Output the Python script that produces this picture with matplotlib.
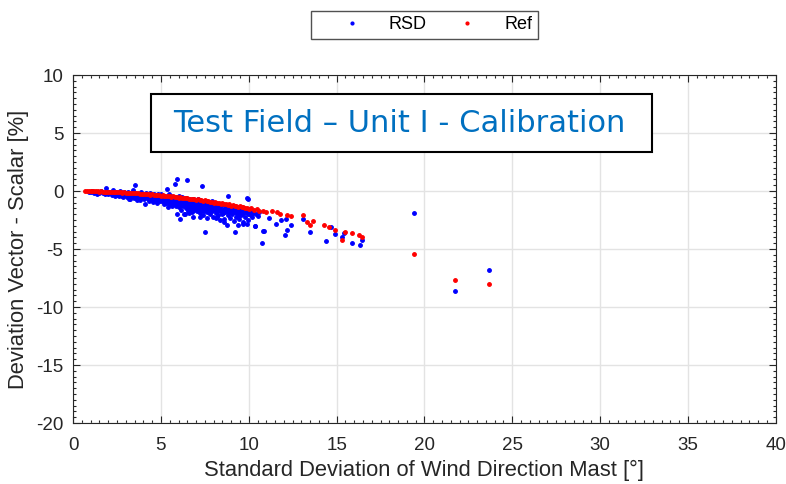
import numpy as np
import matplotlib
matplotlib.use("Agg")
import matplotlib.pyplot as plt
from matplotlib.patches import Rectangle
from matplotlib.ticker import MultipleLocator

plt.rcParams['font.family'] = ['Liberation Sans', 'DejaVu Sans']
plt.rcParams['axes.unicode_minus'] = False

# RSD points (std of wind direction [deg], deviation vector - scalar [%])
rsd_x = [0.9, 1.0, 1.1, 1.2, 1.3, 1.35, 1.4, 1.5, 1.6, 1.7, 1.8, 1.88, 1.9, 2.0,
         2.05, 2.1, 2.2, 2.25, 2.3, 2.4, 2.45, 2.5, 2.6, 2.65, 2.7, 2.8, 2.85, 2.9, 2.95, 3.0,
         3.05, 3.1, 3.15, 3.2, 3.24, 3.3, 3.35, 3.4, 3.45, 3.5, 3.53, 3.55, 3.6, 3.65, 3.7,
         3.75, 3.8, 3.85, 3.9, 3.95,
         4.0, 4.05, 4.1, 4.15, 4.2, 4.25, 4.3, 4.35, 4.4, 4.45, 4.48, 4.5, 4.55, 4.6, 4.65,
         4.7, 4.75, 4.8, 4.85, 4.9, 4.95, 5.0,
         5.02, 5.05, 5.1, 5.15, 5.2, 5.25, 5.3, 5.33, 5.35, 5.4, 5.42, 5.45, 5.5, 5.55, 5.6,
         5.62, 5.65, 5.7, 5.75, 5.8, 5.8, 5.85, 5.88, 5.9, 5.93, 5.95, 5.98,
         6.0, 6.03, 6.05, 6.09, 6.1, 6.12, 6.15, 6.2, 6.22, 6.25, 6.3, 6.32, 6.35, 6.37, 6.4,
         6.42, 6.45, 6.47, 6.5, 6.52, 6.55, 6.6, 6.62, 6.65, 6.7, 6.72, 6.75, 6.8, 6.84, 6.85,
         6.88, 6.9, 6.95, 6.98,
         7.0, 7.03, 7.05, 7.1, 7.12, 7.15, 7.2, 7.22, 7.25, 7.3, 7.32, 7.35, 7.4, 7.42, 7.45,
         7.5, 7.51, 7.55, 7.6, 7.62, 7.65, 7.7, 7.72, 7.75, 7.8, 7.85, 7.88, 7.9, 7.95, 7.98,
         8.0, 8.05, 8.1, 8.12, 8.15, 8.2, 8.22, 8.27, 8.3, 8.35, 8.37, 8.4, 8.45, 8.5, 8.55,
         8.6, 8.62, 8.65, 8.7, 8.74, 8.75, 8.8, 8.84, 8.85, 8.9, 8.93, 8.95, 8.98,
         9.0, 9.05, 9.1, 9.15, 9.2, 9.22, 9.25, 9.3, 9.35, 9.4, 9.45, 9.5, 9.55, 9.6, 9.65,
         9.69, 9.7, 9.75, 9.8, 9.85, 9.88, 9.92, 9.95, 9.97, 9.97, 10.0, 10.05, 10.1, 10.15,
         10.2, 10.25, 10.35, 10.35, 10.4, 10.5, 10.6,
         5.07, 5.18, 5.28, 5.38, 5.48, 5.58, 5.68, 5.78, 5.92, 6.07, 6.18, 6.28, 6.38, 6.48,
         6.58, 6.68, 6.78, 6.92, 7.08, 7.18, 7.28, 7.38, 7.48, 7.58, 7.68, 7.78, 7.92, 8.08,
         8.18, 8.28, 8.42, 8.52, 8.68, 8.78, 8.92, 9.08, 9.18, 9.28, 9.42, 9.52, 9.62, 9.78,
         9.92, 10.08, 10.22, 4.12, 4.32, 4.52, 4.72, 4.92, 3.72, 3.42, 3.12, 2.78, 2.52,
         6.62, 7.22, 8.12, 8.58, 9.38,
         10.77, 10.83, 10.86, 11.17, 11.55, 11.81, 12.11, 12.15, 12.06, 12.38, 13.1, 13.48,
         14.39, 14.66, 14.9, 15.28, 15.41, 15.89, 16.33, 16.46, 19.4, 21.73, 23.68]
rsd_y = [-0.05, -0.1, 0.0, -0.15, -0.05, -0.29, -0.1, -0.2, 0.0, -0.15, -0.25, 0.3, -0.1, -0.3,
         -0.05, -0.2, -0.35, 0.05, -0.15, -0.4, -0.1, -0.25, -0.45, 0.0, -0.3, -0.15, -0.5, -0.05, -0.35, -0.2,
         -0.55, -0.1, -0.35, -0.7, -0.66, -0.2, -0.45, 0.05, -0.6, -0.3, 0.49, -0.15, -0.5, -0.75, -0.25,
         -0.4, -0.8, -0.1, -0.55, -0.3,
         -0.45, -0.7, -1.09, -0.2, -0.6, -0.35, -0.85, -0.5, -0.15, -0.7, -0.8, -0.4, -0.95, -0.3, -0.6,
         -0.75, -0.45, -1.0, -0.25, -0.65, -0.85, -0.5,
         -0.3, -0.9, -0.6, -1.15, -0.4, -0.75, -1.0, 0.2, -0.55, -1.35, -0.85, -0.3, -1.1, -0.65, -0.45,
         -1.25, -0.9, -0.7, -1.05, 0.64, -0.5, -1.3, -0.8, -1.96, 1.07, -0.6, -1.15,
         -0.95, -0.4, -1.4, -2.39, -0.7, -1.15, -1.6, -0.55, -0.9, -1.3, -2.0, -0.75, -1.05, -1.96, -1.5,
         -0.6, -1.2, 0.99, -0.85, -1.7, -1.0, -0.65, -1.35, -1.55, -0.9, -1.15, -1.8, -0.7, -2.25, -1.3,
         -1.0, -1.6, -0.8, -1.25,
         -1.45, -0.95, -1.75, -1.15, -0.7, -1.55, -1.3, -1.9, -0.9, -1.4, 0.43, -1.65, -1.1, -2.1, -1.3,
         -0.85, -3.54, -1.5, -1.8, -1.2, -2.3, -1.0, -1.6, -1.35, -1.95, -1.15, -1.7, -0.9, -1.45, -2.25,
         -1.25, -1.6, -1.0, -1.9, -1.4, -2.2, -1.15, -2.1, -1.55, -1.75, -2.53, -1.3, -1.95, -1.1, -1.65,
         -2.4, -1.45, -1.8, -1.2, -2.96, -1.6, -2.05, -0.46, -1.4, -1.85, -1.67, -2.3, -1.3,
         -1.55, -2.0, -1.7, -2.6, -1.45, -3.54, -1.9, -2.2, -1.6, -1.8, -2.45, -1.5, -2.05, -1.75, -2.68,
         -2.82, -1.9, -1.6, -2.25, -1.7, -2.82, -0.57, -2.0, -0.66, -2.53, -1.65, -1.85, -2.1, -1.7,
         -2.25, -1.9, -3.05, -3.02, -1.95, -2.15, -1.8,
         -0.45, -0.8, -0.55, -1.0, -0.7, -0.95, -1.15, -0.85, -1.0, -0.8, -1.2, -0.95, -0.8, -1.4,
         -1.1, -1.25, -1.45, -1.1, -1.3, -1.0, -1.6, -1.25, -1.7, -1.05, -1.45, -1.25, -1.6, -1.3,
         -1.7, -1.35, -1.6, -1.9, -1.5, -1.7, -1.5, -1.85, -1.6, -1.75, -2.1, -1.7, -2.0, -1.8,
         -1.85, -2.0, -1.75, -0.5, -0.7, -0.6, -0.9, -0.4, -0.6, -0.35, -0.45, -0.4, -0.35,
         -1.9, -2.2, -2.3, -2.7, -2.9,
         -4.49, -3.46, -3.48, -2.33, -2.88, -2.47, -2.39, -3.34, -3.83, -2.97, -2.39, -3.54,
         -4.32, -3.11, -3.68, -3.97, -3.63, -4.49, -4.69, -4.2, -1.87, -8.58, -6.77]

# Reference points
ref_x = [0.7, 0.8, 0.9, 1.0, 1.1, 1.2, 1.3, 1.4, 1.5, 1.6, 1.7, 1.8, 1.9, 2.0,
         2.1, 2.2, 2.3, 2.4, 2.5, 2.6, 2.7, 2.8, 2.9, 3.0, 3.1, 3.2, 3.3, 3.4, 3.5,
         3.6, 3.7, 3.8, 3.9, 4.0, 4.1, 4.2, 4.3, 4.4, 4.5, 4.6, 4.7, 4.8, 4.9, 5.0,
         5.1, 5.2, 5.3, 5.4, 5.5, 5.6, 5.7, 5.8, 5.9, 6.0, 6.1, 6.2, 6.3, 6.4, 6.5,
         6.6, 6.7, 6.8, 6.9, 7.0, 7.1, 7.2, 7.3, 7.4, 7.5, 7.6, 7.7, 7.8, 7.9, 8.0,
         8.1, 8.2, 8.3, 8.4, 8.5, 8.6, 8.7, 8.8, 8.9, 9.0, 9.1, 9.2, 9.3, 9.4, 9.5,
         9.6, 9.7, 9.8, 9.9, 10.0, 10.15, 10.3, 10.45, 10.6, 10.8, 11.0,
         11.3, 11.59, 11.77, 12.15, 12.38, 13.1, 13.29, 13.48, 13.63, 14.28, 14.56,
         14.9, 15.28, 15.47, 15.89, 16.27, 16.46, 19.4, 21.73, 23.68]
ref_y = [-0.01, 0.0, -0.02, -0.01, -0.03, -0.02, -0.04, -0.03, -0.05, -0.04, -0.06, -0.05, -0.07, -0.06,
         -0.08, -0.07, -0.09, -0.08, -0.1, -0.11, -0.1, -0.13, -0.12, -0.15, -0.13, -0.17, -0.15, -0.19, -0.17,
         -0.21, -0.19, -0.23, -0.22, -0.26, -0.23, -0.28, -0.26, -0.31, -0.29, -0.34, -0.31, -0.37, -0.34, -0.4,
         -0.37, -0.43, -0.4, -0.46, -0.43, -0.5, -0.46, -0.53, -0.5, -0.57, -0.53, -0.6, -0.57, -0.64, -0.6,
         -0.68, -0.65, -0.72, -0.69, -0.76, -0.73, -0.8, -0.77, -0.85, -0.81, -0.9, -0.86, -0.95, -0.91, -1.0,
         -0.95, -1.05, -1.0, -1.1, -1.05, -1.15, -1.1, -1.2, -1.15, -1.26, -1.2, -1.31, -1.26, -1.37, -1.32,
         -1.42, -1.38, -1.48, -1.43, -1.54, -1.5, -1.62, -1.58, -1.7, -1.68, -1.8,
         -1.75, -1.81, -2.01, -2.1, -2.19, -2.1, -2.68, -2.97, -2.59, -2.91, -3.11,
         -3.4, -4.2, -3.54, -3.6, -3.77, -3.97, -5.41, -7.66, -8.04]

fig = plt.figure(figsize=(7.86, 4.84), dpi=100)
ax = fig.add_axes([0.093, 0.126, 0.894, 0.719])

ax.plot(rsd_x, rsd_y, '.', color='blue', markersize=5, label='RSD')
ax.plot(ref_x, ref_y, '.', color='red', markersize=5, label='Ref')

ax.set_xlim(0, 40)
ax.set_ylim(-20, 10)
ax.xaxis.set_major_locator(MultipleLocator(5))
ax.yaxis.set_major_locator(MultipleLocator(5))
ax.xaxis.set_minor_locator(MultipleLocator(0.5))
ax.yaxis.set_minor_locator(MultipleLocator(0.5))
ax.tick_params(which='both', direction='in', top=True, right=True, colors='#262626',
               labelsize=13.5, width=0.8)
ax.tick_params(which='major', length=5)
ax.tick_params(which='minor', length=2.5)
ax.tick_params(axis='x', which='major', pad=10)
ax.tick_params(axis='y', which='major', pad=7)
ax.grid(True, which='major', color='#e3e3e3', linewidth=1)
ax.set_axisbelow(True)
for s in ax.spines.values():
    s.set_color('#262626')
    s.set_linewidth(0.8)

ax.set_xlabel('Standard Deviation of Wind Direction Mast [°]', fontsize=15.8, color='#262626',
              labelpad=4)
ax.set_ylabel('Deviation Vector - Scalar [%]', fontsize=15.8, color='#262626', labelpad=5)

fig.legend(loc='center', bbox_to_anchor=(0.54, 0.949), ncol=2, fontsize=13,
           frameon=True, fancybox=False, edgecolor='#262626', markerscale=0.8,
           handlelength=3.9, handletextpad=0.1, columnspacing=0.3, borderpad=0.3)

# title box drawn on top of the axes
fig.patches.append(Rectangle((151 / 786, 1 - 152 / 484), 501 / 786, 58 / 484,
                             transform=fig.transFigure, facecolor='white',
                             edgecolor='black', linewidth=1.5, zorder=5))
fig.text(399 / 786, 1 - 124 / 484, 'Test Field \u2013 Unit I - Calibration',
         fontsize=22, color='#0070c0', family='DejaVu Sans', ha='center', va='center',
         zorder=6)

fig.savefig('out.png', dpi=100)
